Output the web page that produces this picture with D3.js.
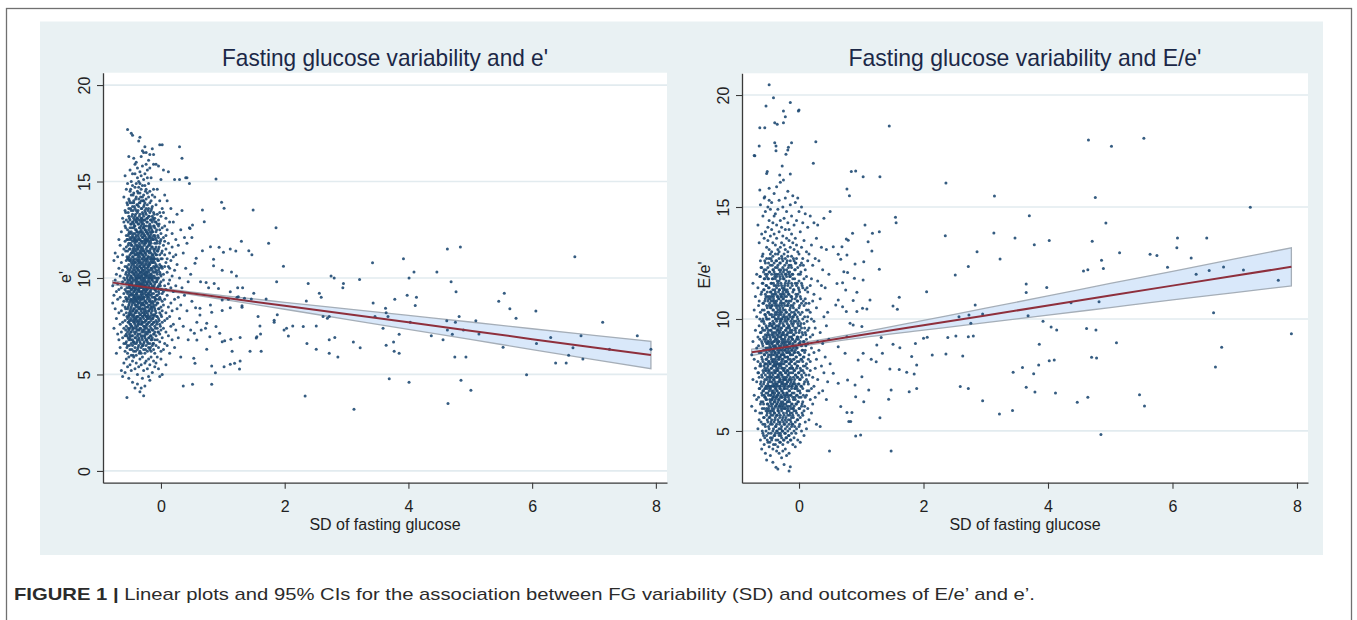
<!DOCTYPE html>
<html>
<head>
<meta charset="utf-8">
<script src="https://cdn.jsdelivr.net/npm/d3@7"></script>
<style>
	body { margin: 0; background: #fff; }
	svg { display: block; font-family: "Liberation Sans", Arial, sans-serif; }
</style>
</head>
<body>
<svg id="chart" width="1357" height="620"></svg>
<script>
'use strict';

// ---- data ----
var xTicks = [0, 2, 4, 6, 8];
var leftYTicks = [0, 5, 10, 15, 20];
var rightYTicks = [5, 10, 15, 20];

var leftTitle = "Fasting glucose variability and e'";
var rightTitle = "Fasting glucose variability and E/e'";
var xTitle = "SD of fasting glucose";
var leftYTitle = "e'";
var rightYTitle = "E/e'";

// dense cloud near x = 0, one column of y values per x
var leftCloud = [
	[-0.78, [9.6, 8.7]],
	[-0.76, [10.9, 9.1, 7.4]],
	[-0.74, [11.3, 8.4, 9.9]],
	[-0.72, [10.2, 7.9, 9.3, 6.1]],
	[-0.70, [11.1, 8.9, 7.1, 9.7]],
	[-0.68, [10.5, 8.2, 6.8, 9.4, 12.0]],
	[-0.66, [9.0, 7.6, 11.7, 10.1, 6.4]],
	[-0.64, [8.3, 10.8, 7.2, 9.5, 5.2, 12.4]],
	[-0.62, [9.8, 6.9, 11.2, 8.6, 7.7, 10.4, 4.9, 13.1]],
	[-0.60, [12.9, 8.1, 10.0, 6.6, 9.2, 7.4, 11.5, 5.6, 14.2, 8.8]],
	[-0.58, [15.3, 9.4, 7.0, 11.9, 8.5, 10.6, 6.2, 12.7, 7.8, 9.9, 5.1, 13.5]],
	[-0.56, [13.0, 8.9, 10.3, 6.7, 11.6, 7.5, 9.3, 12.2, 5.8, 8.2, 10.9, 14.6, 7.1, 9.7]],
	[-0.54, [17.7, 11.0, 8.4, 9.8, 6.5, 12.5, 7.9, 10.5, 13.8, 5.4, 8.9, 11.4, 7.2, 9.2, 14.9, 6.1, 10.1, 12.0]],
	[-0.52, [16.3, 9.5, 7.7, 11.8, 8.1, 13.2, 6.8, 10.7, 9.0, 12.3, 5.9, 14.1, 8.6, 10.2, 7.3, 11.1, 9.7, 4.8, 13.6, 8.0]],
	[-0.50, [15.6, 10.4, 8.3, 12.6, 7.0, 9.3, 11.5, 6.3, 13.9, 8.8, 10.9, 7.6, 12.1, 9.9, 5.5, 14.5, 8.1, 11.2, 6.9, 10.0, 9.5, 13.0, 7.4]],
	[-0.48, [17.5, 12.8, 9.1, 7.8, 11.3, 8.5, 14.3, 10.6, 6.6, 9.7, 12.4, 7.2, 10.1, 13.5, 8.2, 11.7, 5.2, 9.4, 15.0, 6.0, 10.8, 8.9, 12.0, 7.5]],
	[-0.46, [17.4, 11.9, 8.0, 10.3, 13.3, 9.6, 7.3, 12.9, 6.5, 10.9, 8.7, 14.8, 9.2, 11.4, 7.0, 13.7, 5.7, 10.0, 12.2, 8.3, 9.8, 15.4, 6.8, 11.1, 4.6]],
	[-0.44, [16.2, 12.6, 9.0, 7.7, 11.0, 13.9, 8.4, 10.5, 6.2, 12.1, 9.5, 14.4, 7.4, 11.6, 8.8, 10.2, 13.1, 5.9, 9.3, 12.8, 7.9, 11.3, 6.7, 10.7, 8.1, 14.0]],
	[-0.42, [15.4, 10.8, 8.6, 12.3, 7.1, 9.9, 13.6, 11.5, 6.4, 10.1, 8.2, 14.7, 9.4, 12.0, 7.6, 11.2, 5.3, 13.2, 8.9, 10.4, 6.9, 12.7, 9.1, 15.9, 7.8, 11.8, 4.3]],
	[-0.40, [16.0, 13.0, 9.7, 7.4, 11.4, 8.5, 12.5, 10.3, 6.0, 14.2, 9.0, 11.9, 7.9, 13.5, 10.6, 8.3, 5.6, 12.2, 9.5, 14.9, 7.2, 11.0, 8.8, 10.0, 6.6, 12.9, 9.2]],
	[-0.38, [15.7, 11.7, 8.9, 13.8, 7.5, 10.5, 12.4, 9.3, 6.3, 14.5, 10.9, 8.0, 11.2, 7.0, 13.1, 9.8, 5.0, 12.0, 8.6, 10.2, 15.2, 6.8, 11.5, 9.1, 13.4, 7.7, 10.7, 4.5]],
	[-0.36, [17.1, 12.8, 10.1, 8.2, 14.1, 9.6, 11.3, 7.3, 13.0, 8.7, 10.8, 6.5, 12.3, 9.0, 15.0, 7.8, 11.6, 10.4, 5.4, 13.7, 8.4, 9.4, 12.1, 6.9, 10.0, 14.7, 7.6, 11.0]],
	[-0.34, [17.3, 15.5, 11.1, 8.8, 13.3, 10.0, 7.1, 12.6, 9.3, 14.4, 7.9, 10.6, 12.0, 8.5, 11.4, 6.2, 13.9, 9.7, 10.3, 5.8, 12.4, 8.1, 14.9, 9.0, 11.7, 6.7, 10.9, 7.4, 4.1]],
	[-0.32, [16.3, 13.6, 10.5, 8.3, 12.2, 9.2, 14.6, 7.6, 11.3, 10.1, 6.4, 13.1, 8.9, 11.9, 9.6, 15.3, 7.0, 12.7, 10.8, 5.5, 8.6, 14.0, 9.9, 11.5, 7.8, 12.5, 6.1, 10.3, 4.3]],
	[-0.30, [16.6, 12.9, 9.5, 11.8, 8.0, 14.2, 10.7, 7.3, 13.4, 9.1, 11.2, 6.8, 12.4, 8.7, 15.8, 10.2, 7.7, 13.0, 9.8, 11.6, 5.9, 14.8, 8.4, 10.4, 6.5, 12.1, 9.3, 11.0, 4.8]],
	[-0.28, [16.5, 14.3, 11.4, 8.6, 12.8, 10.0, 7.5, 13.7, 9.4, 11.9, 6.6, 12.3, 8.2, 15.1, 10.6, 7.9, 13.2, 9.0, 11.1, 5.2, 14.0, 8.9, 10.9, 6.3, 12.6, 9.7, 7.2, 10.3, 3.9]],
	[-0.26, [16.8, 13.5, 10.4, 8.1, 12.0, 9.6, 14.8, 7.4, 11.3, 10.0, 6.9, 13.0, 8.8, 11.8, 9.2, 15.4, 7.7, 12.5, 10.7, 5.6, 13.9, 8.4, 11.0, 6.1, 9.9, 12.2, 7.0, 10.2, 4.4]],
	[-0.24, [16.5, 15.9, 12.7, 9.8, 11.5, 8.3, 14.1, 10.3, 7.2, 13.3, 9.1, 11.9, 6.5, 12.4, 8.7, 10.8, 7.8, 14.6, 9.5, 11.2, 5.7, 13.6, 8.0, 10.1, 6.8, 12.1, 9.3, 7.5]],
	[-0.22, [15.6, 13.1, 10.9, 8.5, 12.3, 9.4, 14.4, 7.6, 11.6, 10.2, 6.2, 12.9, 8.9, 11.0, 9.7, 15.2, 7.1, 13.8, 10.5, 5.3, 8.2, 12.0, 9.0, 11.4, 6.7, 10.0, 7.9]],
	[-0.20, [16.1, 12.5, 9.9, 11.7, 8.0, 13.6, 10.6, 7.3, 14.9, 9.2, 11.1, 6.4, 12.2, 8.6, 10.3, 7.7, 13.2, 9.6, 11.9, 5.8, 14.2, 8.3, 10.8, 6.9, 12.7, 9.0, 4.9]],
	[-0.18, [16.4, 15.7, 13.9, 10.7, 8.8, 12.1, 9.3, 14.5, 7.5, 11.4, 10.1, 6.6, 12.8, 8.4, 11.0, 9.8, 13.4, 7.2, 12.4, 10.4, 5.5, 8.9, 11.7, 7.9, 10.0, 6.3, 9.5, 4.7]],
	[-0.16, [15.2, 12.6, 10.2, 8.2, 13.5, 9.7, 11.3, 7.0, 14.0, 8.7, 10.9, 6.8, 12.0, 9.1, 11.8, 7.8, 13.0, 10.5, 5.9, 8.5, 12.3, 9.4, 10.0, 6.2, 11.1, 7.4]],
	[-0.14, [16.7, 13.7, 11.0, 9.0, 12.4, 7.9, 10.4, 14.3, 8.5, 11.6, 6.5, 12.9, 9.6, 10.8, 7.3, 13.2, 8.8, 11.2, 5.1, 9.9, 12.1, 7.6, 10.1, 6.9, 8.3]],
	[-0.12, [16.4, 15.9, 12.2, 9.5, 11.5, 8.1, 13.4, 10.6, 7.1, 12.7, 9.2, 10.0, 6.3, 14.6, 8.6, 11.1, 7.7, 12.0, 9.8, 5.7, 10.9, 8.0, 13.0, 6.6]],
	[-0.10, [14.2, 11.3, 9.0, 12.6, 7.5, 10.3, 8.4, 13.1, 9.7, 11.8, 6.1, 10.8, 8.8, 12.2, 7.2, 9.4, 5.4, 11.0, 8.1, 10.5, 6.8]],
	[-0.08, [15.9, 12.9, 10.0, 8.6, 11.6, 7.8, 13.8, 9.3, 10.7, 6.5, 12.4, 8.9, 11.2, 7.0, 9.8, 5.6, 10.4, 8.2, 12.0]],
	[-0.06, [14.6, 11.9, 9.5, 7.4, 12.8, 10.2, 8.7, 13.3, 9.9, 6.8, 11.4, 8.0, 10.6, 5.9, 9.1, 7.7, 11.0]],
	[-0.04, [15.8, 13.0, 10.9, 8.4, 12.1, 9.6, 7.2, 11.5, 10.0, 6.4, 8.9, 12.7, 7.9, 9.3, 5.3, 10.4]],
	[-0.02, [16.9, 14.0, 11.2, 9.0, 12.5, 7.6, 10.3, 8.2, 11.8, 6.7, 9.7, 13.4, 7.1, 10.7, 4.9]],
	[0.00, [15.1, 12.3, 10.1, 8.5, 11.0, 7.3, 9.4, 13.2, 6.2, 10.6, 8.1, 12.0, 9.8, 5.8]],
	[0.02, [16.9, 13.6, 11.4, 8.8, 10.5, 7.7, 12.6, 9.2, 6.9, 11.0, 8.3, 5.0]],
	[0.04, [15.6, 12.1, 9.9, 11.7, 7.4, 10.2, 8.6, 13.4, 6.3, 9.3]],
	[0.06, [14.3, 11.2, 8.9, 12.7, 10.6, 7.8, 9.6, 6.6, 11.9]],
	[0.08, [13.1, 10.8, 8.2, 11.5, 9.4, 7.2, 12.2, 5.5]],
	[0.10, [14.0, 11.0, 9.1, 12.5, 7.9, 10.3, 6.5]],
	[0.12, [15.5, 10.6, 8.5, 11.8, 9.7, 7.0]],
	[0.14, [12.9, 9.9, 11.3, 8.0, 6.1, 10.5]],
	[0.16, [13.6, 10.9, 8.7, 7.5, 9.5]],
	[0.18, [12.3, 10.1, 8.3, 6.8, 11.6]],
	[0.20, [11.1, 9.3, 7.6, 12.9]],
	[0.22, [15.1, 10.4, 8.9, 6.4]],
	[0.24, [12.0, 9.6, 7.3, 11.2]],
	[0.26, [13.3, 8.4, 10.7]],
	[0.28, [11.7, 9.0, 6.9]],
	[0.30, [15.1, 10.0, 7.9, 16.8]],
	[0.32, [12.5, 8.6, 5.9]],
	[0.34, [13.5, 9.5, 16.2]],
	[0.36, [11.3, 7.5, 4.4]],
	[0.38, [12.1, 9.1]],
	[0.40, [15.2, 10.5]],
	[0.42, [8.3, 11.8, 15.2]],
	[0.44, [9.8, 6.8]],
	[0.46, [14.9, 12.6]],
	[0.48, [10.2, 7.3]],
	[0.50, [12.1, 8.8]]
];

// the darkest middle of the cloud, between the columns above
var leftCore = [
	[-0.57, [9.0, 11.4, 7.3, 12.6, 8.4, 10.2, 6.6, 13.4]],
	[-0.55, [10.6, 8.0, 12.0, 9.5, 7.0, 11.1, 13.9, 8.8, 6.4, 10.0]],
	[-0.53, [9.3, 11.7, 7.7, 12.9, 10.4, 8.5, 6.9, 11.0, 13.4, 9.9, 7.4, 12.2]],
	[-0.51, [10.9, 8.7, 12.4, 7.1, 9.6, 11.5, 13.1, 8.2, 10.3, 6.5, 12.0, 9.1, 14.0, 7.8]],
	[-0.49, [9.8, 12.3, 7.6, 11.0, 8.4, 13.6, 10.5, 6.8, 9.2, 11.8, 7.9, 12.8, 10.1, 8.9, 14.6, 7.2]],
	[-0.47, [10.7, 8.1, 12.6, 9.4, 7.0, 11.3, 13.2, 8.6, 10.0, 6.3, 12.1, 9.7, 11.7, 7.5, 13.9, 8.8, 10.3]],
	[-0.45, [11.5, 9.1, 7.4, 12.9, 10.4, 8.3, 13.5, 6.7, 9.9, 11.1, 7.8, 12.3, 10.8, 8.9, 14.3, 9.5, 6.0]],
	[-0.43, [10.2, 12.0, 8.0, 9.6, 13.0, 7.2, 11.4, 8.7, 10.6, 12.7, 6.6, 9.3, 11.9, 7.7, 10.9, 13.7, 8.4, 9.0]],
	[-0.41, [11.2, 8.9, 12.5, 7.5, 10.3, 9.4, 13.3, 6.9, 11.7, 8.2, 10.8, 12.1, 7.9, 9.8, 14.1, 8.6, 10.0, 6.2]],
	[-0.39, [9.6, 11.9, 8.3, 13.1, 7.3, 10.5, 12.4, 8.8, 9.2, 11.3, 6.7, 10.1, 12.9, 7.8, 9.9, 11.6, 8.0, 13.8]],
	[-0.37, [10.9, 8.5, 12.2, 9.7, 7.1, 11.5, 13.5, 8.0, 10.4, 6.4, 12.8, 9.0, 11.1, 7.6, 10.0, 14.4, 8.7, 9.4]],
	[-0.35, [11.8, 9.3, 7.7, 12.6, 10.2, 8.4, 13.2, 6.8, 9.8, 11.2, 7.3, 12.0, 10.6, 8.9, 13.9, 9.5, 6.1, 10.8]],
	[-0.33, [10.3, 12.4, 8.1, 9.5, 11.6, 7.4, 13.0, 8.7, 10.7, 6.6, 12.9, 9.1, 11.3, 7.9, 10.0, 14.2, 8.4, 9.7]],
	[-0.31, [11.4, 9.0, 12.8, 7.6, 10.5, 8.2, 13.6, 6.9, 9.7, 11.9, 8.6, 10.1, 12.3, 7.2, 9.3, 11.0, 13.1, 8.9]],
	[-0.29, [10.0, 12.1, 8.4, 11.5, 7.0, 9.6, 13.3, 8.0, 10.8, 6.5, 12.6, 9.2, 11.2, 7.7, 10.4, 14.0, 8.7, 9.9]],
	[-0.27, [11.1, 9.4, 12.7, 7.5, 10.2, 8.6, 13.8, 6.7, 9.0, 11.7, 8.1, 10.6, 12.2, 7.3, 9.8, 11.4, 13.0, 8.3]],
	[-0.25, [10.5, 12.0, 8.8, 9.6, 11.3, 7.1, 13.4, 8.2, 10.9, 6.3, 12.5, 9.3, 11.8, 7.8, 10.1, 14.5, 8.5]],
	[-0.23, [11.6, 9.1, 12.9, 7.4, 10.3, 8.7, 13.1, 6.8, 9.7, 11.0, 8.0, 10.7, 12.4, 7.6, 9.4, 11.9]],
	[-0.21, [10.1, 12.3, 8.5, 11.4, 7.2, 9.8, 13.5, 8.1, 10.6, 6.6, 12.0, 9.2, 11.1, 7.9, 10.4]],
	[-0.19, [11.3, 9.5, 12.6, 7.7, 10.0, 8.3, 13.2, 6.9, 9.1, 11.8, 8.8, 10.7, 12.1, 7.3]],
	[-0.17, [10.8, 12.2, 8.6, 9.7, 11.5, 7.0, 13.0, 8.0, 10.2, 6.4, 11.9, 9.3, 12.7]],
	[-0.15, [11.0, 9.2, 12.5, 7.6, 10.5, 8.4, 13.6, 6.8, 9.9, 11.6, 8.1, 10.0]],
	[-0.13, [10.3, 12.0, 8.7, 11.2, 7.3, 9.5, 13.1, 7.9, 10.8, 6.6, 12.4]],
	[-0.11, [11.4, 9.0, 12.7, 7.7, 10.1, 8.5, 13.3, 9.6, 11.0, 7.1]],
	[-0.09, [10.6, 8.3, 12.1, 9.4, 11.5, 7.4, 10.0, 8.9, 12.9]],
	[-0.07, [9.8, 11.2, 8.0, 12.5, 10.3, 7.6, 9.1, 11.8]],
	[-0.05, [10.9, 8.7, 12.2, 9.5, 7.2, 11.4, 10.0]],
	[-0.03, [9.2, 11.6, 8.4, 10.5, 7.8, 12.8]],
	[-0.01, [10.2, 8.9, 11.9, 7.5, 9.6]],
	[0.01, [11.3, 9.4, 8.0, 10.6]]
];

// scattered points away from the cloud, [x, y]
var leftSpread = [
	[0.51, 12.75], [0.47, 12.57], [0.70, 12.92], [0.67, 13.52], [0.89, 15.13], [0.98, 13.92], [1.02, 13.61],
	[0.80, 11.62], [0.94, 11.59], [1.01, 11.33], [0.57, 11.02], [0.55, 10.76], [0.67, 11.41], [0.85, 10.97],
	[0.85, 10.64], [0.99, 10.40], [0.64, 9.81], [0.73, 9.76], [0.86, 9.71], [0.77, 9.50], [0.93, 9.45],
	[0.99, 8.86], [0.80, 8.60], [0.63, 8.43], [0.56, 8.46], [0.63, 8.08], [0.58, 7.70], [0.74, 7.65],
	[0.82, 8.22], [0.99, 8.31], [0.65, 7.31], [0.72, 7.39], [0.79, 6.96], [0.89, 7.48], [0.95, 7.13],
	[1.03, 6.75], [0.54, 7.13], [0.58, 6.79], [0.74, 6.31], [0.99, 6.70], [0.53, 5.84], [0.55, 5.58],
	[0.82, 5.44], [0.88, 5.09], [1.02, 5.40], [0.51, 4.49], [0.82, 4.49], [-0.55, 3.80], [1.09, 8.90],
	[1.13, 6.82], [1.25, 9.03], [1.35, 8.95], [2.30, 7.48],
	[1.49, 13.52], [1.86, 12.61], [1.30, 11.90], [1.74, 11.80], [1.12, 11.50], [1.21, 11.40], [1.42, 11.41],
	[1.47, 11.21], [1.98, 10.61], [1.14, 10.31], [1.22, 10.10], [1.87, 9.81], [1.24, 9.50], [1.32, 9.50],
	[1.12, 9.29], [1.50, 9.21], [1.23, 9.00], [1.46, 8.91], [1.70, 8.91], [1.12, 8.46], [1.31, 8.48],
	[1.31, 8.56], [1.88, 8.10], [1.57, 8.00], [1.83, 7.81], [1.83, 7.70], [1.60, 7.51], [2.03, 7.39],
	[1.99, 7.31], [2.13, 7.51], [2.06, 6.99], [1.61, 7.10], [1.55, 6.96], [1.54, 6.89], [1.28, 6.91],
	[1.15, 6.20], [1.44, 6.20], [1.62, 6.20], [1.12, 5.53], [1.19, 5.58], [1.28, 5.70], [1.27, 5.28],
	[2.38, 9.71], [2.35, 8.81], [2.56, 9.21], [2.59, 9.00], [2.75, 10.10], [2.80, 10.00], [2.95, 9.71],
	[2.94, 9.50], [3.21, 9.92], [3.42, 10.79], [3.43, 8.70], [3.92, 11.00], [4.01, 10.00], [4.09, 10.31],
	[4.46, 10.31], [4.63, 11.50], [4.84, 11.61], [4.69, 9.81], [4.77, 9.29], [3.98, 9.10], [4.13, 9.00],
	[4.11, 8.58], [3.63, 8.43], [3.64, 8.20], [3.67, 8.00], [3.46, 8.00], [3.59, 7.39], [4.03, 7.70],
	[3.78, 8.90], [3.85, 7.08], [3.64, 6.51], [3.76, 6.68], [3.77, 6.20], [3.85, 6.10], [3.11, 6.68],
	[3.22, 6.39], [3.69, 4.78], [4.01, 4.60], [4.64, 3.49], [3.12, 3.20], [2.33, 3.89], [2.51, 7.51],
	[2.36, 6.60], [2.51, 6.31], [2.62, 8.00], [2.69, 7.91], [2.72, 8.00], [2.72, 6.80], [2.81, 6.91],
	[2.72, 6.10], [2.86, 5.91], [4.62, 7.79], [4.76, 7.70], [4.82, 8.00], [4.63, 7.31], [4.71, 7.08],
	[4.89, 7.31], [5.09, 7.79], [5.14, 7.10], [4.37, 7.01], [4.56, 6.80], [4.75, 5.91], [4.93, 5.91],
	[4.85, 4.70], [5.01, 4.18], [5.46, 8.79], [5.55, 9.21], [5.64, 8.41], [5.74, 7.91], [6.06, 8.29],
	[5.53, 6.41], [5.91, 4.99], [6.07, 6.60], [6.30, 6.91], [6.66, 6.39], [6.79, 7.01], [6.38, 5.60],
	[6.55, 5.60], [6.59, 5.99], [6.82, 5.80], [6.69, 11.10], [7.14, 7.70], [7.25, 6.31], [7.70, 7.01],
	[7.92, 6.31]
];

var rightCloud = [
	[-0.76, [8.4, 6.1]],
	[-0.74, [11.6, 7.3, 9.0]],
	[-0.72, [10.4, 6.6, 8.2, 17.3]],
	[-0.70, [9.5, 5.9, 7.8, 11.0]],
	[-0.68, [12.0, 8.7, 6.4, 7.2, 10.1]],
	[-0.66, [9.2, 5.1, 11.4, 7.6, 8.1, 14.2]],
	[-0.64, [10.8, 6.9, 8.5, 13.4, 5.5, 7.4, 9.7]],
	[-0.62, [11.9, 8.0, 6.2, 9.4, 4.6, 12.6, 7.1, 15.1, 10.3]],
	[-0.60, [13.8, 9.9, 7.5, 5.8, 11.2, 8.3, 6.7, 12.3, 4.2, 9.0, 7.0]],
	[-0.58, [14.6, 10.7, 8.8, 6.3, 12.9, 7.7, 9.5, 5.3, 11.6, 8.1, 6.8, 4.9, 10.0]],
	[-0.56, [15.4, 11.3, 9.1, 7.2, 13.6, 8.4, 6.0, 10.4, 5.6, 12.2, 7.9, 9.8, 4.4, 6.6, 11.8]],
	[-0.54, [13.9, 10.9, 8.6, 6.5, 12.5, 7.5, 9.3, 5.2, 11.1, 8.0, 14.8, 6.9, 10.2, 4.0, 7.7, 9.0, 12.0]],
	[-0.52, [16.5, 12.7, 9.6, 7.3, 11.5, 8.2, 5.7, 10.6, 6.4, 13.2, 8.9, 7.0, 4.8, 10.0, 6.0, 9.2, 11.9, 3.7, 8.5]],
	[-0.50, [15.0, 11.8, 9.4, 7.6, 13.5, 8.3, 6.2, 10.3, 5.4, 12.3, 7.1, 9.0, 6.7, 11.0, 4.5, 8.7, 14.1, 5.9, 10.8, 7.9]],
	[-0.48, [14.4, 12.1, 8.9, 6.8, 10.6, 7.4, 13.1, 5.6, 9.7, 8.1, 11.4, 6.1, 4.3, 10.0, 7.0, 12.7, 8.6, 5.1, 9.3, 15.3, 7.7]],
	[-0.46, [13.7, 10.5, 8.4, 6.6, 12.4, 7.2, 9.1, 5.3, 11.2, 8.0, 14.9, 6.3, 9.8, 4.7, 7.6, 10.9, 5.8, 8.7, 12.9, 6.9, 9.5, 3.9]],
	[-0.44, [15.2, 11.6, 9.3, 7.0, 13.0, 8.2, 6.4, 10.2, 5.5, 12.0, 7.8, 8.9, 4.6, 11.0, 6.8, 9.7, 14.0, 5.9, 8.5, 7.4, 10.6, 6.1, 12.6]],
	[-0.42, [14.3, 10.8, 8.6, 6.2, 12.2, 7.5, 9.9, 5.0, 11.3, 8.1, 13.4, 6.7, 9.2, 4.2, 7.1, 10.4, 5.7, 8.8, 12.8, 6.5, 9.6, 7.9, 11.8, 3.6]],
	[-0.40, [15.6, 12.5, 9.0, 7.3, 10.7, 8.4, 13.8, 6.0, 9.4, 5.4, 11.5, 7.7, 8.0, 14.6, 6.6, 10.1, 4.8, 8.7, 12.1, 5.8, 9.8, 7.0, 11.1, 6.3]],
	[-0.38, [14.7, 11.2, 8.8, 6.9, 12.9, 7.6, 10.0, 5.2, 9.1, 8.2, 13.3, 6.4, 10.6, 4.4, 7.2, 11.8, 5.6, 8.5, 9.6, 6.1, 12.3, 7.9, 10.3, 4.9, 8.0]],
	[-0.36, [15.9, 13.6, 10.2, 8.1, 6.5, 11.9, 7.4, 9.3, 5.7, 12.6, 8.7, 6.8, 10.8, 4.1, 7.8, 9.9, 14.2, 5.3, 8.4, 11.4, 6.2, 9.0, 7.1, 12.0, 5.0, 10.5]],
	[-0.34, [14.9, 12.4, 9.7, 7.7, 11.0, 8.3, 6.0, 10.4, 5.5, 13.1, 7.0, 9.2, 4.6, 8.9, 6.6, 11.6, 7.5, 10.0, 5.9, 12.9, 8.0, 6.3, 9.5, 3.3, 8.6, 4.3]],
	[-0.32, [15.3, 11.7, 9.4, 7.2, 13.9, 8.5, 6.4, 10.9, 5.1, 12.2, 7.9, 9.0, 4.8, 11.3, 6.7, 8.2, 10.2, 5.8, 13.0, 7.4, 9.7, 6.1, 12.7, 8.8, 4.0, 10.6]],
	[-0.30, [16.1, 13.2, 10.4, 8.0, 6.2, 11.8, 7.6, 9.2, 5.4, 12.5, 8.6, 6.9, 10.7, 4.5, 7.3, 9.9, 14.4, 5.7, 8.3, 11.1, 6.5, 9.5, 7.0, 12.1, 4.9, 10.0]],
	[-0.28, [14.1, 12.0, 9.1, 7.5, 10.6, 8.4, 5.9, 11.5, 6.8, 13.4, 7.8, 9.6, 4.7, 8.9, 6.1, 10.3, 5.2, 12.8, 7.1, 9.3, 3.8, 8.1, 11.0, 6.5, 10.0]],
	[-0.26, [15.0, 12.3, 9.8, 7.8, 11.2, 8.7, 6.3, 10.5, 5.6, 13.7, 7.2, 9.4, 4.4, 8.2, 6.7, 11.9, 5.0, 9.1, 12.6, 7.4, 10.1, 6.0, 8.5, 4.1, 10.9]],
	[-0.24, [14.5, 11.4, 9.0, 7.1, 12.9, 8.0, 6.6, 10.2, 5.3, 11.8, 7.7, 9.7, 4.6, 8.8, 6.2, 13.3, 7.3, 10.7, 5.7, 9.3, 12.2, 8.4, 3.5, 6.9, 11.1]],
	[-0.22, [15.4, 12.7, 10.0, 8.3, 6.5, 11.3, 7.6, 9.5, 5.1, 13.1, 8.9, 6.0, 10.4, 4.9, 7.0, 12.0, 5.5, 8.6, 9.2, 7.3, 11.6, 6.4, 14.0, 4.2]],
	[-0.20, [14.8, 11.9, 9.3, 7.4, 12.5, 8.1, 6.1, 10.8, 5.4, 9.9, 7.9, 13.6, 6.7, 8.5, 4.7, 11.0, 7.1, 9.6, 5.8, 12.2, 8.8, 3.9, 10.3]],
	[-0.18, [15.7, 12.1, 9.6, 7.7, 11.5, 8.3, 6.3, 10.0, 5.0, 13.0, 7.2, 9.0, 4.5, 8.7, 6.6, 11.2, 5.7, 9.4, 12.8, 7.5, 10.6, 6.0, 14.3]],
	[-0.16, [14.0, 11.1, 8.9, 7.0, 12.4, 8.0, 5.9, 10.2, 6.8, 9.7, 4.8, 13.5, 7.6, 8.5, 5.3, 11.7, 6.4, 9.2, 10.8, 7.3, 4.0, 12.0]],
	[-0.14, [15.1, 12.6, 10.1, 8.2, 6.6, 11.4, 7.4, 9.5, 5.5, 13.2, 8.7, 6.1, 10.5, 4.6, 7.8, 9.0, 11.9, 5.8, 8.4, 7.1, 3.4]],
	[-0.12, [14.6, 11.6, 9.2, 7.3, 12.8, 8.6, 6.2, 10.3, 5.2, 9.8, 7.9, 13.8, 6.9, 8.1, 4.9, 11.0, 5.6, 9.4, 7.0, 12.3]],
	[-0.10, [15.5, 12.0, 9.7, 7.6, 11.2, 8.4, 6.5, 10.6, 5.7, 13.4, 8.9, 7.1, 4.4, 9.1, 6.0, 10.1, 7.8, 11.8, 5.3]],
	[-0.08, [14.2, 11.3, 8.8, 7.2, 12.6, 8.2, 6.1, 9.9, 5.0, 10.7, 7.7, 13.1, 6.7, 9.3, 4.7, 8.5, 10.3, 5.9]],
	[-0.06, [15.2, 12.2, 9.5, 7.5, 10.9, 8.0, 6.4, 11.6, 5.4, 9.0, 13.6, 6.9, 8.6, 4.3, 10.2, 7.1, 12.5]],
	[-0.04, [14.4, 11.0, 9.1, 7.0, 12.7, 8.3, 5.8, 10.4, 6.6, 9.6, 7.8, 5.1, 11.5, 8.7, 6.2, 13.3]],
	[-0.02, [15.4, 12.3, 9.8, 7.4, 11.1, 8.5, 6.3, 10.0, 5.5, 13.0, 7.9, 9.2, 4.6, 6.8, 10.8]],
	[0.00, [14.8, 11.7, 8.9, 7.6, 10.5, 8.1, 6.0, 12.9, 9.4, 5.2, 7.1, 11.3, 6.5, 9.9]],
	[0.02, [13.9, 11.0, 9.0, 7.3, 12.4, 8.4, 6.7, 10.2, 5.6, 9.7, 4.5, 7.8, 12.0]],
	[0.04, [15.0, 12.5, 9.6, 7.0, 10.7, 8.2, 6.1, 11.6, 5.0, 8.8, 7.5, 13.2]],
	[0.06, [14.3, 11.4, 8.6, 6.9, 10.0, 7.7, 5.7, 9.3, 12.7, 6.3, 8.1]],
	[0.08, [13.5, 10.6, 8.3, 7.1, 11.8, 9.0, 5.9, 7.6, 4.8, 9.8]],
	[0.10, [14.7, 12.2, 9.4, 7.9, 10.9, 6.5, 8.6, 5.4, 11.3]],
	[0.12, [13.0, 10.4, 8.0, 6.6, 11.9, 9.1, 7.3, 5.1]],
	[0.14, [14.1, 11.2, 8.9, 7.2, 10.1, 6.0, 9.5, 12.6]],
	[0.16, [12.9, 10.7, 8.4, 6.8, 9.6, 7.5, 5.5]],
	[0.18, [14.6, 11.5, 9.2, 7.7, 10.3, 6.4, 8.1]],
	[0.20, [13.3, 10.0, 8.7, 6.9, 11.8, 5.8]],
	[0.22, [12.4, 9.3, 7.4, 10.8, 6.2]],
	[0.24, [14.3, 11.1, 8.5, 7.0, 9.9]],
	[0.26, [12.7, 9.6, 7.8, 6.5]],
	[0.28, [13.6, 10.5, 8.2, 5.3]],
	[0.30, [11.7, 9.0, 7.3, 14.2]],
	[0.32, [12.6, 8.6, 6.7]],
	[0.34, [10.9, 9.4, 5.2]],
	[0.36, [13.2, 7.9, 11.5]],
	[0.38, [12.2, 8.9, 6.8]],
	[0.40, [10.1, 7.6, 14.5]],
	[0.42, [11.4, 8.3]],
	[0.44, [13.1, 9.7, 6.4]],
	[0.46, [10.3, 7.2]],
	[0.48, [12.0, 9.1]],
	[0.50, [14.8, 8.0]]
];

var rightCore = [
	[-0.65, [8.8, 6.5, 10.6, 7.6]],
	[-0.63, [7.9, 10.0, 5.8, 9.1, 11.9, 6.9]],
	[-0.61, [9.4, 7.2, 11.1, 5.4, 8.5, 6.3, 12.3, 7.9]],
	[-0.59, [8.2, 10.4, 6.6, 9.6, 5.0, 11.6, 7.4, 8.9, 6.0, 12.8]],
	[-0.57, [9.9, 7.6, 11.3, 5.6, 8.6, 6.8, 10.7, 7.1, 12.1, 4.8, 9.2, 6.2]],
	[-0.55, [8.4, 10.2, 6.5, 11.8, 7.8, 5.3, 9.5, 6.9, 12.6, 8.0, 4.7, 10.8, 7.3]],
	[-0.53, [9.1, 7.0, 11.0, 5.9, 8.7, 12.2, 6.4, 10.1, 7.7, 5.0, 9.7, 8.2, 6.7, 11.5]],
	[-0.51, [8.0, 10.5, 6.2, 9.3, 7.4, 12.0, 5.5, 8.9, 11.2, 6.9, 4.6, 10.0, 7.8, 9.6, 5.8]],
	[-0.49, [9.5, 7.2, 11.4, 6.0, 8.4, 10.3, 5.2, 12.5, 7.7, 9.0, 6.6, 10.9, 8.1, 4.9, 7.0, 11.8]],
	[-0.47, [8.6, 10.7, 6.4, 9.8, 7.5, 12.1, 5.6, 8.0, 11.0, 6.9, 9.2, 4.5, 10.2, 7.3, 8.8, 5.9]],
	[-0.45, [9.0, 7.0, 11.6, 5.7, 8.3, 10.5, 6.2, 12.7, 7.8, 9.5, 4.9, 10.8, 6.6, 8.7, 11.2, 7.4, 5.4]],
	[-0.43, [8.1, 10.1, 6.7, 9.4, 7.6, 11.8, 5.3, 8.9, 12.4, 6.0, 10.6, 7.2, 4.7, 9.7, 8.4, 6.4, 11.1]],
	[-0.41, [9.3, 7.3, 11.0, 5.9, 8.6, 10.4, 6.5, 12.2, 7.9, 9.0, 5.1, 10.9, 6.8, 8.2, 11.6, 7.0, 4.4, 9.8]],
	[-0.39, [8.5, 10.8, 6.3, 9.6, 7.1, 12.0, 5.5, 8.1, 11.3, 6.7, 9.2, 4.8, 10.2, 7.6, 8.8, 5.8, 11.9, 7.4]],
	[-0.37, [9.1, 7.7, 11.5, 6.1, 8.3, 10.0, 5.2, 12.6, 7.0, 9.7, 6.5, 10.7, 8.7, 4.6, 11.1, 7.9, 6.9, 9.4]],
	[-0.35, [8.0, 10.3, 6.6, 9.5, 7.4, 11.7, 5.7, 8.9, 12.3, 6.2, 10.6, 7.1, 5.0, 9.1, 8.4, 11.0, 6.8, 7.7]],
	[-0.33, [9.6, 7.2, 11.2, 5.4, 8.5, 10.1, 6.4, 12.0, 7.8, 9.0, 4.9, 10.9, 6.7, 8.2, 11.5, 7.5, 5.9, 9.3]],
	[-0.31, [8.7, 10.5, 6.1, 9.8, 7.0, 11.9, 5.6, 8.3, 12.5, 6.9, 9.4, 4.5, 10.3, 7.6, 8.0, 5.3, 11.3, 7.3]],
	[-0.29, [9.2, 7.6, 11.0, 6.3, 8.8, 10.2, 5.1, 12.2, 7.2, 9.6, 6.6, 10.8, 8.4, 4.8, 11.6, 7.9, 6.0, 9.9]],
	[-0.27, [8.2, 10.7, 6.8, 9.3, 7.5, 11.4, 5.5, 8.6, 12.7, 6.2, 10.0, 7.1, 5.0, 9.0, 8.0, 11.1, 6.5]],
	[-0.25, [9.4, 7.3, 11.8, 5.8, 8.4, 10.4, 6.7, 12.1, 7.7, 9.7, 4.6, 10.9, 6.1, 8.9, 11.3, 7.0, 5.4]],
	[-0.23, [8.6, 10.1, 6.4, 9.1, 7.8, 11.5, 5.3, 8.1, 12.4, 6.9, 9.9, 7.4, 4.9, 10.6, 8.3, 6.0, 11.0]],
	[-0.21, [9.0, 7.1, 11.2, 6.2, 8.7, 10.3, 5.6, 12.0, 7.6, 9.5, 6.6, 10.8, 8.1, 4.7, 11.7, 7.3]],
	[-0.19, [8.3, 10.6, 6.9, 9.8, 7.2, 11.3, 5.9, 8.8, 12.6, 6.3, 10.1, 7.7, 5.2, 9.3, 8.5, 6.7]],
	[-0.17, [9.7, 7.5, 11.6, 5.5, 8.2, 10.0, 6.5, 12.3, 7.0, 9.1, 4.8, 10.7, 6.1, 8.6, 11.1]],
	[-0.15, [8.9, 10.4, 6.3, 9.4, 7.8, 11.9, 5.7, 8.0, 12.1, 6.8, 9.6, 7.3, 5.1, 10.2, 8.5]],
	[-0.13, [9.2, 7.2, 11.0, 6.0, 8.4, 10.6, 5.4, 12.4, 7.6, 9.9, 6.6, 10.8, 8.1, 4.6]],
	[-0.11, [8.6, 10.9, 6.7, 9.5, 7.0, 11.5, 5.8, 8.8, 12.0, 6.2, 10.0, 7.8, 5.3, 9.1]],
	[-0.09, [9.8, 7.4, 11.3, 6.4, 8.2, 10.5, 5.6, 12.7, 7.1, 9.3, 6.0, 10.1, 8.7]],
	[-0.07, [8.0, 10.2, 6.9, 9.6, 7.7, 11.8, 5.2, 8.5, 12.2, 6.5, 9.0, 7.3]],
	[-0.05, [9.4, 7.0, 11.1, 6.2, 8.8, 10.4, 5.9, 12.5, 7.5, 9.9, 4.9, 8.3]],
	[-0.03, [8.7, 10.8, 6.6, 9.2, 7.9, 11.6, 5.5, 8.1, 10.1, 6.9, 7.4]],
	[-0.01, [9.1, 7.6, 11.4, 6.3, 8.5, 10.3, 5.7, 12.0, 7.1, 9.7]],
	[0.01, [8.4, 10.6, 6.8, 9.5, 7.3, 11.2, 6.0, 8.9, 5.3]],
	[0.03, [9.8, 7.7, 10.9, 6.5, 8.2, 12.1, 7.0, 9.2]],
	[0.05, [8.6, 10.3, 6.2, 9.4, 7.4, 11.5, 5.8]],
	[0.07, [9.0, 7.9, 10.8, 6.6, 8.3, 12.4]],
	[0.09, [10.1, 8.5, 7.2, 9.6, 6.1]],
	[0.11, [8.8, 10.7, 7.5, 9.3]],
	[0.13, [9.9, 7.8, 11.4, 6.8]],
	[0.15, [8.2, 10.4, 7.1]]
];

var rightSpread = [
	[-0.48, 20.46], [-0.41, 19.88], [-0.53, 19.51], [-0.14, 19.67], [0.00, 19.33], [-0.01, 19.29],
	[-0.25, 19.29], [-0.22, 19.03], [-0.39, 18.76], [-0.35, 18.69], [-0.25, 18.76], [-0.63, 18.54],
	[-0.55, 18.54], [-0.12, 17.87], [-0.17, 17.67], [-0.39, 17.87], [-0.37, 17.72], [-0.37, 17.51],
	[-0.64, 17.72], [-0.71, 17.29], [0.27, 17.91], [-0.21, 17.35], [-0.18, 17.54], [0.23, 16.95],
	[-0.51, 16.58], [-0.27, 16.83], [-0.14, 16.47], [-0.31, 16.43], [-0.25, 16.21], [-0.63, 15.76],
	[-0.48, 15.84], [-0.55, 15.46], [-0.16, 3.21], [-0.37, 3.38], [0.49, 4.11],
	[1.45, 18.62], [2.36, 16.07], [0.84, 16.58], [0.91, 16.61], [1.03, 16.35], [1.30, 16.35], [0.77, 15.80],
	[0.81, 15.50], [1.55, 14.54], [1.56, 14.30], [1.06, 14.20], [1.18, 13.83], [1.29, 13.90], [0.86, 13.83],
	[0.76, 13.57], [0.79, 13.51], [1.11, 13.45], [2.35, 13.72], [2.86, 13.00], [1.17, 13.04], [0.55, 13.23],
	[0.69, 13.23], [0.63, 12.89], [0.77, 12.86], [0.67, 12.67], [0.90, 12.46], [1.04, 12.56], [1.29, 12.22],
	[2.72, 12.34], [2.51, 11.96], [0.72, 12.11], [0.78, 12.08], [0.89, 11.82], [1.03, 11.74], [0.61, 11.59],
	[0.70, 11.62], [0.75, 11.29], [0.93, 11.19], [2.05, 11.22], [1.61, 10.97], [1.14, 10.85], [0.63, 10.85],
	[1.51, 10.58], [1.58, 10.43], [0.59, 10.63], [0.70, 10.55], [0.87, 10.82], [1.02, 10.48], [1.09, 10.45],
	[0.76, 10.33], [0.93, 10.33], [2.83, 10.63], [0.82, 9.81], [0.87, 9.73], [1.01, 9.66], [2.57, 10.10],
	[2.73, 10.18], [2.76, 9.81], [2.00, 9.14], [2.06, 9.18], [2.39, 9.17], [2.52, 9.24], [2.72, 9.21],
	[2.80, 9.24], [1.32, 9.17], [1.51, 8.87], [1.62, 8.72], [1.87, 8.91], [1.25, 8.84], [1.34, 8.47],
	[2.14, 8.39], [2.36, 8.44], [2.63, 8.35], [1.81, 8.32], [1.89, 7.95], [1.16, 8.20], [1.24, 8.09],
	[0.95, 8.17], [1.03, 8.47], [1.46, 7.77], [1.61, 7.75], [1.73, 7.62], [1.85, 7.54], [1.48, 6.83],
	[1.77, 6.75], [1.89, 6.90], [2.59, 6.98], [2.72, 6.90], [2.95, 6.35], [1.44, 6.42], [1.30, 5.59],
	[0.85, 5.82], [0.83, 5.42], [0.91, 4.78], [0.99, 4.82], [1.48, 4.11], [0.63, 8.76], [0.77, 9.21],
	[0.74, 8.47], [0.55, 7.58], [0.63, 7.13], [0.78, 7.28], [0.90, 7.05], [0.91, 6.53], [1.04, 6.31],
	[1.12, 6.83], [1.01, 7.42], [0.67, 6.09], [0.80, 5.42], [0.77, 5.82],
	[4.65, 17.99], [5.02, 17.71], [5.54, 18.07], [3.14, 15.49], [4.76, 15.42], [7.25, 14.99], [3.70, 14.61],
	[4.93, 14.29], [3.13, 13.84], [3.47, 13.62], [3.78, 13.32], [4.02, 13.50], [4.71, 13.47], [6.08, 13.62],
	[6.07, 13.18], [6.55, 13.62], [3.23, 12.68], [5.15, 12.96], [5.64, 12.89], [5.75, 12.84], [4.86, 12.62],
	[4.89, 12.25], [4.57, 12.14], [4.64, 12.20], [5.92, 12.31], [6.30, 12.72], [6.38, 12.00], [6.59, 12.17],
	[6.82, 12.32], [7.14, 12.19], [7.70, 11.73], [3.65, 11.56], [3.65, 11.18], [3.98, 11.41], [4.37, 10.73],
	[4.82, 10.77], [2.95, 10.22], [3.68, 10.15], [6.66, 10.28], [3.92, 9.90], [4.05, 9.64], [4.14, 9.51],
	[4.62, 9.58], [4.77, 9.51], [7.91, 9.34], [3.86, 8.87], [5.10, 8.94], [6.79, 8.74], [3.85, 7.95],
	[3.59, 7.83], [3.77, 7.56], [3.44, 7.62], [4.02, 8.14], [4.10, 8.17], [4.70, 8.29], [4.78, 8.26],
	[6.69, 7.86], [3.65, 6.95], [3.79, 6.74], [4.12, 6.70], [4.47, 6.28], [4.64, 6.50], [5.47, 6.62],
	[5.55, 6.12], [3.22, 5.76], [3.43, 5.91], [4.85, 4.84]
];

// linear fit and 95% CI, read at these x values
var leftFitX = [-0.78, 0, 1, 2, 3, 4, 5, 6, 7, 7.92];
var leftFit = [9.76, 9.42, 8.99, 8.56, 8.13, 7.70, 7.27, 6.83, 6.40, 6.01];
var leftLower = [9.66, 9.36, 8.89, 8.38, 7.86, 7.34, 6.82, 6.29, 5.77, 5.30];
var leftUpper = [9.86, 9.48, 9.09, 8.74, 8.40, 8.06, 7.72, 7.37, 7.03, 6.72];

var rightFitX = [-0.76, 0, 1, 2, 3, 4, 5, 6, 7, 7.91];
var rightFit = [8.51, 8.84, 9.28, 9.72, 10.16, 10.60, 11.05, 11.49, 11.93, 12.33];
var rightLower = [8.37, 8.76, 9.16, 9.50, 9.84, 10.17, 10.51, 10.85, 11.18, 11.48];
var rightUpper = [8.65, 8.92, 9.40, 9.94, 10.48, 11.03, 11.59, 12.13, 12.68, 13.18];

var captionBold = "FIGURE 1 | ";
var captionText = "Linear plots and 95% CIs for the association between FG variability (SD) and outcomes of E/e\u2019 and e\u2019.";

// ---- drawing ----
var NAVY = "#1f4a73";
var MAROON = "#8e2f3c";
var AXIS = "#3a3a3a";

var svg = d3.select("#chart");

svg.append("rect")
	.attr("x", 6.5).attr("y", 8.5)
	.attr("width", 1345).attr("height", 660)
	.attr("fill", "none")
	.attr("stroke", "#707070")
	.attr("stroke-width", 1.3);

svg.append("rect")
	.attr("x", 40).attr("y", 21.5)
	.attr("width", 1283).attr("height", 533.5)
	.attr("fill", "#e9f1f3");

function flatten(columns, spread) {
	var pts = [];
	columns.forEach(function (c) {
		c[1].forEach(function (v) { pts.push([c[0], v]); });
	});
	return pts.concat(spread);
}

function drawPanel(p) {
	var x = d3.scaleLinear().domain(p.xDomain).range([p.left, p.right]);
	var y = d3.scaleLinear().domain(p.yDomain).range([p.bottom, p.top]);
	var g = svg.append("g");

	g.append("rect")
		.attr("x", p.left).attr("y", p.top)
		.attr("width", p.right - p.left).attr("height", p.bottom - p.top)
		.attr("fill", "#fff");

	g.selectAll(".grid")
		.data(p.yTicks)
		.enter().append("line")
		.attr("x1", p.left).attr("x2", p.right)
		.attr("y1", function (d) { return y(d); })
		.attr("y2", function (d) { return y(d); })
		.attr("stroke", "#e2ebef")
		.attr("stroke-width", 1.7);

	var band = p.fitX.map(function (v, i) { return [v, p.lower[i], p.upper[i]]; });
	g.append("path")
		.datum(band)
		.attr("d", d3.area()
			.x(function (d) { return x(d[0]); })
			.y0(function (d) { return y(d[1]); })
			.y1(function (d) { return y(d[2]); })
			.curve(d3.curveMonotoneX))
		.attr("fill", "#d9e8fa")
		.attr("stroke", "#a5aeb8")
		.attr("stroke-width", 1.3);

	g.selectAll(".pt")
		.data(flatten(p.cloud.concat(p.core), p.spread))
		.enter().append("circle")
		.attr("cx", function (d) { return x(d[0]); })
		.attr("cy", function (d) { return y(d[1]); })
		.attr("r", 1.5)
		.attr("fill", NAVY)
		.attr("fill-opacity", 0.9);

	g.append("path")
		.datum(p.fitX.map(function (v, i) { return [v, p.fit[i]]; }))
		.attr("d", d3.line()
			.x(function (d) { return x(d[0]); })
			.y(function (d) { return y(d[1]); }))
		.attr("fill", "none")
		.attr("stroke", MAROON)
		.attr("stroke-width", 2);

	var yAxis = g.append("g")
		.attr("transform", "translate(" + p.left + ",0)")
		.call(d3.axisLeft(y).tickValues(p.yTicks).tickSize(6).tickSizeOuter(0));
	yAxis.select(".domain").attr("stroke", AXIS).attr("stroke-width", 1.3);
	yAxis.selectAll(".tick line").attr("stroke", AXIS).attr("stroke-width", 1.1);
	yAxis.selectAll(".tick text")
		.attr("x", 0).attr("y", -13).attr("dy", 0)
		.attr("transform", "rotate(-90)")
		.style("text-anchor", "middle")
		.style("font-size", "16px")
		.style("font-family", "\"Liberation Sans\", Arial, sans-serif")
		.attr("fill", "#222");

	var xAxis = g.append("g")
		.attr("transform", "translate(0," + p.bottom + ")")
		.call(d3.axisBottom(x).tickValues(xTicks).tickSize(6).tickSizeOuter(0).tickPadding(11.5));
	xAxis.select(".domain").attr("stroke", AXIS).attr("stroke-width", 1.3);
	xAxis.selectAll(".tick line").attr("stroke", AXIS).attr("stroke-width", 1.1);
	xAxis.selectAll(".tick text")
		.style("font-size", "16px")
		.style("font-family", "\"Liberation Sans\", Arial, sans-serif")
		.attr("fill", "#222");

	g.append("text")
		.attr("x", (p.left + p.right) / 2).attr("y", 66)
		.attr("text-anchor", "middle")
		.attr("textLength", p.titleWidth)
		.attr("lengthAdjust", "spacingAndGlyphs")
		.style("font-size", "24px")
		.attr("fill", "#1b2847")
		.text(p.title);

	g.append("text")
		.attr("x", (p.left + p.right) / 2).attr("y", 529.5)
		.attr("text-anchor", "middle")
		.style("font-size", "16px")
		.attr("fill", "#222")
		.text(xTitle);

	g.append("text")
		.attr("transform", "translate(" + (p.left - 32) + "," + p.yTitleY + ") rotate(-90)")
		.attr("text-anchor", "middle")
		.style("font-size", "16px")
		.attr("fill", "#222")
		.text(p.yTitle);
}

drawPanel({
	left: 103, right: 667, top: 72.7, bottom: 482.7,
	xDomain: [-0.937, 8.18], yDomain: [-0.61, 20.64],
	yTicks: leftYTicks,
	cloud: leftCloud, core: leftCore, spread: leftSpread,
	fitX: leftFitX, fit: leftFit, lower: leftLower, upper: leftUpper,
	title: leftTitle, titleWidth: 326,
	yTitle: leftYTitle, yTitleY: 277
});

drawPanel({
	left: 742, right: 1308, top: 73.3, bottom: 482.7,
	xDomain: [-0.916, 8.177], yDomain: [2.69, 20.97],
	yTicks: rightYTicks,
	cloud: rightCloud, core: rightCore, spread: rightSpread,
	fitX: rightFitX, fit: rightFit, lower: rightLower, upper: rightUpper,
	title: rightTitle, titleWidth: 353,
	yTitle: rightYTitle, yTitleY: 275
});

var caption = svg.append("text")
	.attr("x", 14).attr("y", 600)
	.attr("textLength", 1021)
	.attr("lengthAdjust", "spacingAndGlyphs")
	.style("font-size", "17px")
	.attr("fill", "#2b2b2b");
caption.append("tspan").style("font-weight", "bold").text(captionBold);
caption.append("tspan").text(captionText);
</script>
</body>
</html>
